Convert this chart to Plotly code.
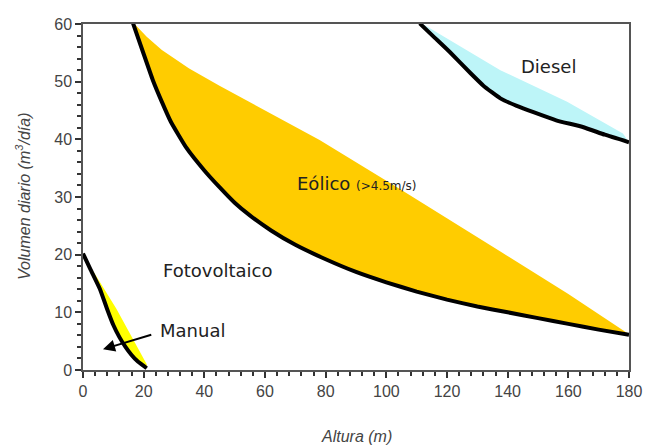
import plotly.graph_objects as go

# Manual (human-powered) boundary curve and its filled band
manual_x = [0, 2.5, 5.6, 8, 10, 12, 14, 16, 18, 20, 21]
manual_y = [20.2, 17.4, 14.0, 10.5, 7.8, 5.7, 4.0, 2.6, 1.5, 0.7, 0.3]
manual_edge_x = [0, 11, 21]
manual_edge_y = [20, 10.6, 1.0]

# Wind (Eólico) lower curve and upper edge
eolico_x = [16.5, 20, 23, 26, 29, 34, 40, 45, 50, 55, 62, 70, 80, 90, 100, 110, 120, 130, 140, 150, 160, 170, 180]
eolico_y = [60.1, 54.8, 50.3, 46.5, 43.0, 38.6, 34.6, 31.7, 29.0, 26.8, 24.2, 21.7, 19.2, 17.0, 15.2, 13.6, 12.2, 11.0, 10.0, 9.0, 8.0, 7.0, 6.1]
eolico_edge_x = [17, 21, 26, 35, 45, 78, 105, 138, 160, 180]
eolico_edge_y = [60, 57.8, 55.5, 52.3, 49.3, 39.9, 31.2, 20.4, 13.2, 6.2]

# Diesel lower curve and upper edge
diesel_x = [111, 116, 121, 127.7, 132, 137.6, 143, 148.5, 156, 165, 172, 180]
diesel_y = [60.1, 57.6, 55.1, 51.5, 49.3, 47.1, 45.8, 44.7, 43.3, 42.1, 40.8, 39.5]
diesel_edge_x = [112, 137.6, 159.6, 178]
diesel_edge_y = [60, 52.0, 46.5, 41.0]

x_ticks = [0, 20, 40, 60, 80, 100, 120, 140, 160, 180]
y_ticks = [0, 10, 20, 30, 40, 50, 60]

label_font = "Comic Sans MS, DejaVu Sans, sans-serif"
axis_font = "Arial, Liberation Sans, sans-serif"

fig = go.Figure()

def band(cx, cy, ex, ey, color):
    fig.add_trace(go.Scatter(
        x=list(cx) + list(ex)[::-1], y=list(cy) + list(ey)[::-1],
        fill="toself", fillcolor=color, mode="none",
        line=dict(width=0), hoverinfo="skip", showlegend=False))

band(manual_x, manual_y, manual_edge_x, manual_edge_y, "#FFFF00")
band(eolico_x, eolico_y, eolico_edge_x, eolico_edge_y, "#FFCC00")
band(diesel_x, diesel_y, diesel_edge_x, diesel_edge_y, "#BDF5F8")

for cx, cy in [(manual_x, manual_y), (eolico_x, eolico_y), (diesel_x, diesel_y)]:
    fig.add_trace(go.Scatter(x=cx, y=cy, mode="lines",
                             line=dict(color="black", width=4, shape="spline", smoothing=0.4),
                             showlegend=False, hoverinfo="skip"))

fig.add_annotation(x=44.5, y=17.3, text="Fotovoltaico", showarrow=False,
                   font=dict(family=label_font, size=18, color="#222"))
fig.add_annotation(x=90.3, y=32.4,
                   text="Eólico <span style='font-size:12px'>(>4.5m/s)</span>",
                   showarrow=False, font=dict(family=label_font, size=18, color="#222"))
fig.add_annotation(x=153.3, y=52.7, text="Diesel", showarrow=False,
                   font=dict(family=label_font, size=18, color="#222"))
fig.add_annotation(x=36, y=6.8, text="Manual", showarrow=False,
                   font=dict(family=label_font, size=18, color="#222"))
fig.add_annotation(x=6.6, y=3.6, ax=23, ay=6.2, xref="x", yref="y", axref="x", ayref="y",
                   text="", showarrow=True, arrowhead=2, arrowsize=1.2, arrowwidth=2,
                   arrowcolor="black")

# axis titles
fig.add_annotation(x=0.5, y=0, xref="paper", yref="paper", yanchor="middle", yshift=-66,
                   text="<i>Altura (m)</i>", showarrow=False,
                   font=dict(family=axis_font, size=16, color="#444"))
fig.add_annotation(x=0, y=0.5, xref="paper", yref="paper", xanchor="center", xshift=-60,
                   text="<i>Volumen diario (m<sup>3</sup>/día)</i>", showarrow=False, textangle=-90,
                   font=dict(family=axis_font, size=16, color="#444"))

axis_common = dict(showgrid=False, zeroline=False, showline=True, linecolor="#555",
                   linewidth=1.5, mirror=True, ticks="outside", ticklen=6, tickwidth=1.5,
                   tickcolor="#333", automargin=False,
                   tickfont=dict(family=axis_font, size=16, color="#444"))

fig.update_xaxes(range=[0, 180], tickvals=x_ticks,
                 minor=dict(dtick=4, tick0=0, ticks="outside", ticklen=4, tickcolor="#333"),
                 **axis_common)
fig.update_yaxes(range=[0, 60], tickvals=y_ticks,
                 minor=dict(dtick=2, tick0=0, ticks="outside", ticklen=4, tickcolor="#333"),
                 **axis_common)

fig.update_layout(width=649, height=446, margin=dict(l=83, r=20, t=24, b=76),
                  plot_bgcolor="white", paper_bgcolor="white")

fig.write_html("out.html", config={"displayModeBar": False},
               post_script="document.body.style.margin='0';document.body.style.overflow='hidden';")
